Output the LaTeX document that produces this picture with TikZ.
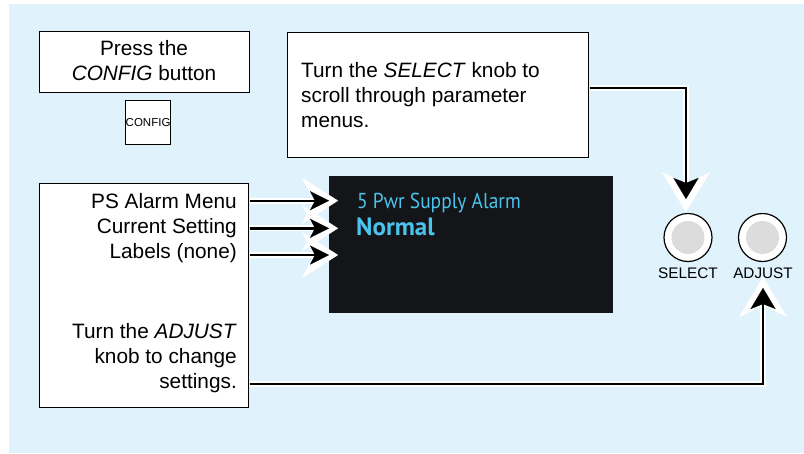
\documentclass[tikz,border=0pt]{standalone}
\usepackage{fontspec}
\setmainfont{Liberation Sans}
\newfontfamily\dispfont[FakeStretch=0.9]{PT Sans}
\newfontfamily\dispbold{PT Sans Bold}
\usetikzlibrary{arrows.meta}
\definecolor{bgblue}{HTML}{E0F2FC}
\definecolor{dispbg}{HTML}{131519}
\definecolor{dispcyan}{HTML}{4CC3EC}
\definecolor{knobgray}{HTML}{DCDCDC}
\begin{document}
\begin{tikzpicture}[x=1pt,y=-1pt,
  box/.style={draw=black, line width=1.2pt, fill=white, inner sep=0pt, anchor=north west},
  txt/.style={font=\fontsize{20.8}{25}\selectfont, inner sep=0pt},
  knoblab/.style={font=\fontsize{15.3}{18}\selectfont, inner sep=0pt, anchor=base},
  knob/.style={circle, draw=black, line width=1.2pt, fill=white, minimum size=48pt, inner sep=0pt},
  knobin/.style={circle, fill=knobgray, minimum size=33pt, inner sep=0pt},
  disptxt/.style={text=dispcyan, inner sep=0pt, anchor=base west},
  halo/.style={draw=white, line width=6pt},
  core/.style={draw=black, line width=2.4pt},
  hwtip/.style={-{Stealth[length=36pt,width=46pt,inset=12pt,line width=0.01pt]}},
  hbtip/.style={-{Stealth[length=19pt,width=19pt,inset=5pt,line width=0.01pt]}},
  vwtip/.style={-{Stealth[length=40pt,width=48pt,inset=12pt,line width=0.01pt]}},
  vbtip/.style={-{Stealth[length=21pt,width=25pt,inset=5pt,line width=0.01pt]}}
]
\useasboundingbox (0,0) rectangle (804,453);
\fill[bgblue] (9,4) rectangle (804,453);

% boxes
\node[box, minimum width=210pt, minimum height=61pt] (press) at (39,31) {};
\node[txt, anchor=base] (pressa) at (144,55) {Press the};
\node[txt, anchor=base] (pressb) at (144,80) {\textit{CONFIG} button};

\node[box, minimum width=45pt, minimum height=44pt] (cfg) at (125,100) {};
\node[font=\fontsize{11.5}{13}\selectfont, inner sep=0pt] (cfgt) at (cfg.center) {CONFIG};

\node[box, minimum width=301pt, minimum height=125pt] (selbox) at (287,32) {};
\node[txt, anchor=base west] (sela) at (301,77) {Turn the \textit{SELECT} knob to};
\node[txt, anchor=base west] (selb) at (301,102) {scroll through parameter};
\node[txt, anchor=base west] (selc) at (301,127) {menus.};

\node[box, minimum width=209pt, minimum height=224pt] (leftbox) at (39,183) {};
\node[txt, anchor=base east] (la) at (237,208) {PS Alarm Menu};
\node[txt, anchor=base east] (lb) at (237,233) {Current Setting};
\node[txt, anchor=base east] (lc) at (237,258) {Labels (none)};
\node[txt, anchor=base east] (ld) at (237,338) {Turn the \textit{ADJUST}};
\node[txt, anchor=base east] (le) at (237,363) {knob to change};
\node[txt, anchor=base east] (lf) at (237,388) {settings.};

% display
\node[fill=dispbg, minimum width=284pt, minimum height=137pt, anchor=north west, inner sep=0pt] (disp) at (329,176) {};
\node[disptxt, font=\dispfont\fontsize{21.6}{25}\selectfont] (d1) at (357,208) {5 Pwr Supply Alarm};
\node[disptxt, font=\dispbold\fontsize{25}{25}\selectfont] (d2) at (356,235) {Normal};

% knobs
\node[knob] (selknob) at (688,237.5) {};
\node[knobin] (selin) at (selknob.center) {};
\node[knoblab] (sellab) at (688,278) {SELECT};
\node[knob] (adjknob) at (762.5,237.5) {};
\node[knobin] (adjin) at (adjknob.center) {};
\node[knoblab] (adjlab) at (763,278) {ADJUST};

% arrow end points
\coordinate (t1w) at (338,200.7);
\coordinate (t1b) at (329,200.7);
\coordinate (t2w) at (338,228.3);
\coordinate (t2b) at (329,228.3);
\coordinate (t3w) at (338,255);
\coordinate (t3b) at (329,255);
\coordinate (sely) at (588,88);
\coordinate (selw) at (686,212);
\coordinate (selbt) at (686,199);
\coordinate (adjy) at (248,384);
\coordinate (adjw) at (763,277);
\coordinate (adjbt) at (763,288);

% halos
\draw[halo, hwtip] ([xshift=0.8pt]leftbox.east |- t1w) -- (t1w);
\draw[halo, hwtip] ([xshift=0.8pt]leftbox.east |- t2w) -- (t2w);
\draw[halo, hwtip] ([xshift=0.8pt]leftbox.east |- t3w) -- (t3w);
\draw[halo, vwtip] ([xshift=0.8pt]selbox.east |- sely) -| (selw);
\draw[halo, vwtip] ([xshift=0.8pt]leftbox.east |- adjy) -| (adjw);

% cores
\draw[core, hbtip] ([xshift=0.6pt]leftbox.east |- t1b) -- (t1b);
\draw[core, hbtip] ([xshift=0.6pt]leftbox.east |- t2b) -- (t2b);
\draw[core, hbtip] ([xshift=0.6pt]leftbox.east |- t3b) -- (t3b);
\draw[core, vbtip] ([xshift=0.6pt]selbox.east |- sely) -| (selbt);
\draw[core, vbtip] ([xshift=0.6pt]leftbox.east |- adjy) -| (adjbt);
\end{tikzpicture}
\end{document}
